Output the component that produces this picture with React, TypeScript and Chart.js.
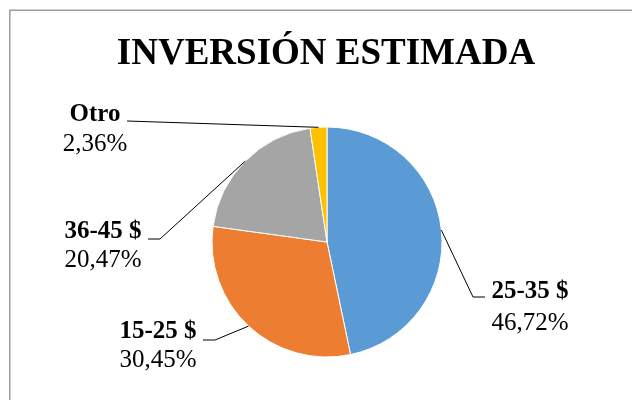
import React, { useEffect, useRef } from "react";
import { Chart, registerables } from "chart.js";

Chart.register(...registerables);

const TITLE = "INVERSIÓN ESTIMADA";
const categories = ["25-35 $", "15-25 $", "36-45 $", "Otro"];
const values = [46.72, 30.45, 20.47, 2.36];
const valueLabels = ["46,72%", "30,45%", "20,47%", "2,36%"];
const colors = ["#5B9BD5", "#ED7D31", "#A5A5A5", "#FFC000"];

// label placement (layout only)
const LABEL_LAYOUT = [
  { cx: 530, b1: 298, b2: 330, path: [[473, 297], [485, 297]] },
  { cx: 158, b1: 338, b2: 367, path: [[215, 340], [203, 340]] },
  { cx: 103, b1: 238, b2: 267, path: [[160, 239], [148, 239]] },
  { cx: 95, b1: 121, b2: 151, path: [[127, 121]] },
];

const FONT = '"Liberation Serif", "Times New Roman", serif';

const decorPlugin = {
  id: "decor",
  beforeDraw(chart: any) {
    const ctx = chart.ctx;
    ctx.save();
    ctx.fillStyle = "#ffffff";
    ctx.fillRect(0, 0, chart.width, chart.height);
    ctx.strokeStyle = "#9b9b9b";
    ctx.lineWidth = 1.5;
    ctx.beginPath();
    ctx.moveTo(9.75, chart.height);
    ctx.lineTo(9.75, 10.25);
    ctx.lineTo(chart.width, 10.25);
    ctx.stroke();
    ctx.fillStyle = "#000";
    ctx.font = `bold 37px ${FONT}`;
    ctx.textAlign = "center";
    ctx.textBaseline = "alphabetic";
    ctx.fillText(TITLE, 326, 64);
    ctx.restore();
  },
  afterDraw(chart: any) {
    const ctx = chart.ctx;
    const meta = chart.getDatasetMeta(0);
    ctx.save();
    meta.data.forEach((arc: any, i: number) => {
      const p = arc.getProps(["x", "y", "startAngle", "endAngle", "outerRadius"], true);
      const mid = (p.startAngle + p.endAngle) / 2;
      const sx = p.x + Math.cos(mid) * p.outerRadius;
      const sy = p.y + Math.sin(mid) * p.outerRadius;
      const lay = LABEL_LAYOUT[i];
      ctx.strokeStyle = "#000";
      ctx.lineWidth = 1;
      ctx.beginPath();
      ctx.moveTo(sx, sy);
      lay.path.forEach((pt) => ctx.lineTo(pt[0], pt[1]));
      ctx.stroke();
      ctx.fillStyle = "#000";
      ctx.textAlign = "center";
      ctx.textBaseline = "alphabetic";
      ctx.font = `bold 25px ${FONT}`;
      ctx.fillText(categories[i], lay.cx, lay.b1);
      ctx.font = `25px ${FONT}`;
      ctx.fillText(valueLabels[i], lay.cx, lay.b2);
    });
    ctx.restore();
  },
};

export default function App() {
  const ref = useRef<HTMLCanvasElement>(null);
  useEffect(() => {
    if (!ref.current) return;
    const chart = new Chart(ref.current, {
      type: "pie",
      data: {
        labels: categories,
        datasets: [
          {
            data: values,
            backgroundColor: colors,
            borderColor: "#ffffff",
            borderWidth: 1,
            hoverOffset: 0,
          },
        ],
      },
      options: {
        animation: false,
        responsive: false,
        radius: 115,
        layout: { padding: { left: 22, right: 0, top: 84, bottom: 0 } },
        plugins: {
          legend: { display: false },
          title: { display: false },
          tooltip: { enabled: false },
        },
      } as any,
      plugins: [decorPlugin],
    });
    return () => chart.destroy();
  }, []);
  return (
    <div style={{ position: "fixed", left: 0, top: 0, width: 632, height: 400, background: "#fff" }}>
      <canvas ref={ref} width={632} height={400} style={{ display: "block", width: 632, height: 400 }} />
    </div>
  );
}
